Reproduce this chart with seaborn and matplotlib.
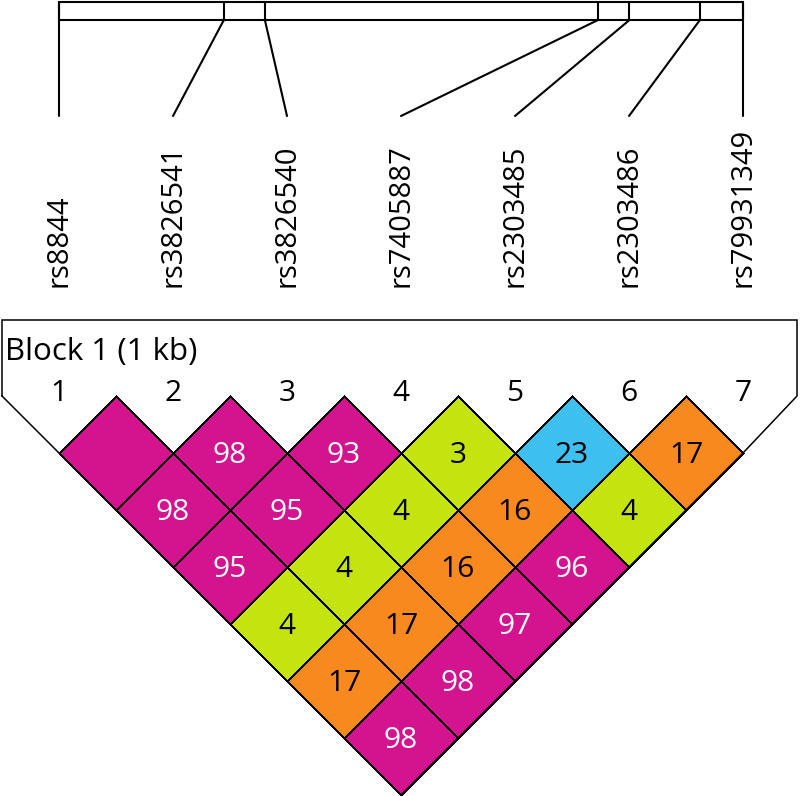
import numpy as np
import pandas as pd
import matplotlib
matplotlib.use("Agg")
import matplotlib.pyplot as plt
import seaborn as sns
from matplotlib.colors import ListedColormap, BoundaryNorm
from matplotlib.transforms import Affine2D

# ---------------- data ----------------
snp_names = ["rs8844", "rs3826541", "rs3826540", "rs7405887",
             "rs2303485", "rs2303486", "rs79931349"]
snp_pos_bp = [0, 241, 301, 788, 834, 937, 1000]   # relative position within block
block_len_bp = 1000
# LD (D' x100) by SNP distance: d1 = adjacent pairs, d2 = pairs two apart, ...
ld_d1 = [100, 98, 93, 3, 23, 17]
ld_d2 = [98, 95, 4, 16, 4]
ld_d3 = [95, 4, 16, 96]
ld_d4 = [4, 17, 97]
ld_d5 = [17, 98]
ld_d6 = [98]
block_label = "Block 1 (1 kb)"

ld_bins = [0, 10, 20, 90, 101]
ld_colors = ["#C5E40F", "#F7891F", "#3DBFEF", "#D4148F"]

# ---------------- build matrix ----------------
n = len(snp_names)
mat = np.full((n, n), np.nan)
for d, row in enumerate([ld_d1, ld_d2, ld_d3, ld_d4, ld_d5, ld_d6], start=1):
    for i, v in enumerate(row):
        mat[i, i + d] = v
mask = np.isnan(mat)
df = pd.DataFrame(mat, index=snp_names, columns=snp_names)

sns.set_theme(style="white")
plt.rcParams["font.family"] = ["Open Sans", "DejaVu Sans"]

fig = plt.figure(figsize=(8, 7.96), dpi=100)
ax = fig.add_axes([0, 0, 1, 1])

PX = 114.0                  # pixels per SNP spacing
X0 = 1 - 59 / PX
Y0 = -0.5 + 453 / PX
def X(p): return X0 + p / PX
def Y(p): return Y0 - p / PX

cmap = ListedColormap(ld_colors)
norm = BoundaryNorm(ld_bins, cmap.N)
sns.heatmap(df, mask=mask, cmap=cmap, norm=norm, cbar=False,
            linewidths=0.9, linecolor="black", ax=ax, annot=False)

mesh = ax.collections[0]
T = Affine2D(np.array([[0.5, 0.5, 0.5], [-0.5, 0.5, 0.0], [0, 0, 1]]))
mesh.set_transform(T + ax.transData)
ec = np.zeros((n * n, 4))
ec[~mask.ravel(), 3] = 1.0
mesh.set_edgecolor(ec)
mesh.set_antialiased(True)

ax.set_xlim(X(0), X(800))
ax.set_ylim(Y(796), Y(0))
ax.axis("off")

# value annotations
for i in range(n):
    for j in range(i + 1, n):
        v = mat[i, j]
        if v >= 100:
            continue
        ax.text((i + j) / 2 + 1, -(j - i) / 2 - 0.092, f"{int(v)}",
                ha="center", va="baseline", fontsize=21.5,
                color="white" if v >= 90 else "black")

# block outline
outline_x = [X(2), X(2), X(797), X(797), n, (1 + n) / 2, 1, X(2)]
outline_y = [0.0, Y(320), Y(320), 0.0, -0.5, -0.5 - (n - 1) / 2, -0.5, 0.0]
ax.plot(outline_x, outline_y, color="black", lw=1.1, solid_joinstyle="miter")

ax.text(X(5), Y(360), block_label, ha="left", va="baseline", fontsize=22.5, color="black")
for k in range(1, n + 1):
    ax.text(k, Y(401), str(k), ha="center", va="baseline", fontsize=21.5, color="black")

# SNP names
for k, name in enumerate(snp_names, start=1):
    ax.text(k, Y(287), name, rotation=90, ha="center", va="bottom",
            fontsize=21, color="black")

# physical map bar
bar_x = [1 + p / block_len_bp * (n - 1) for p in snp_pos_bp]
bx0, bx1 = bar_x[0], bar_x[-1]
yt, yb = Y(2), Y(20)
ax.plot([bx0, bx1, bx1, bx0, bx0], [yt, yt, yb, yb, yt], color="black", lw=1.5)
for k, bx in enumerate(bar_x, start=1):
    ax.plot([bx, bx], [yt, yb], color="black", lw=1.5)
    ax.plot([bx, k], [yb, Y(116)], color="black", lw=1.5)

fig.savefig("out.png", dpi=100)
